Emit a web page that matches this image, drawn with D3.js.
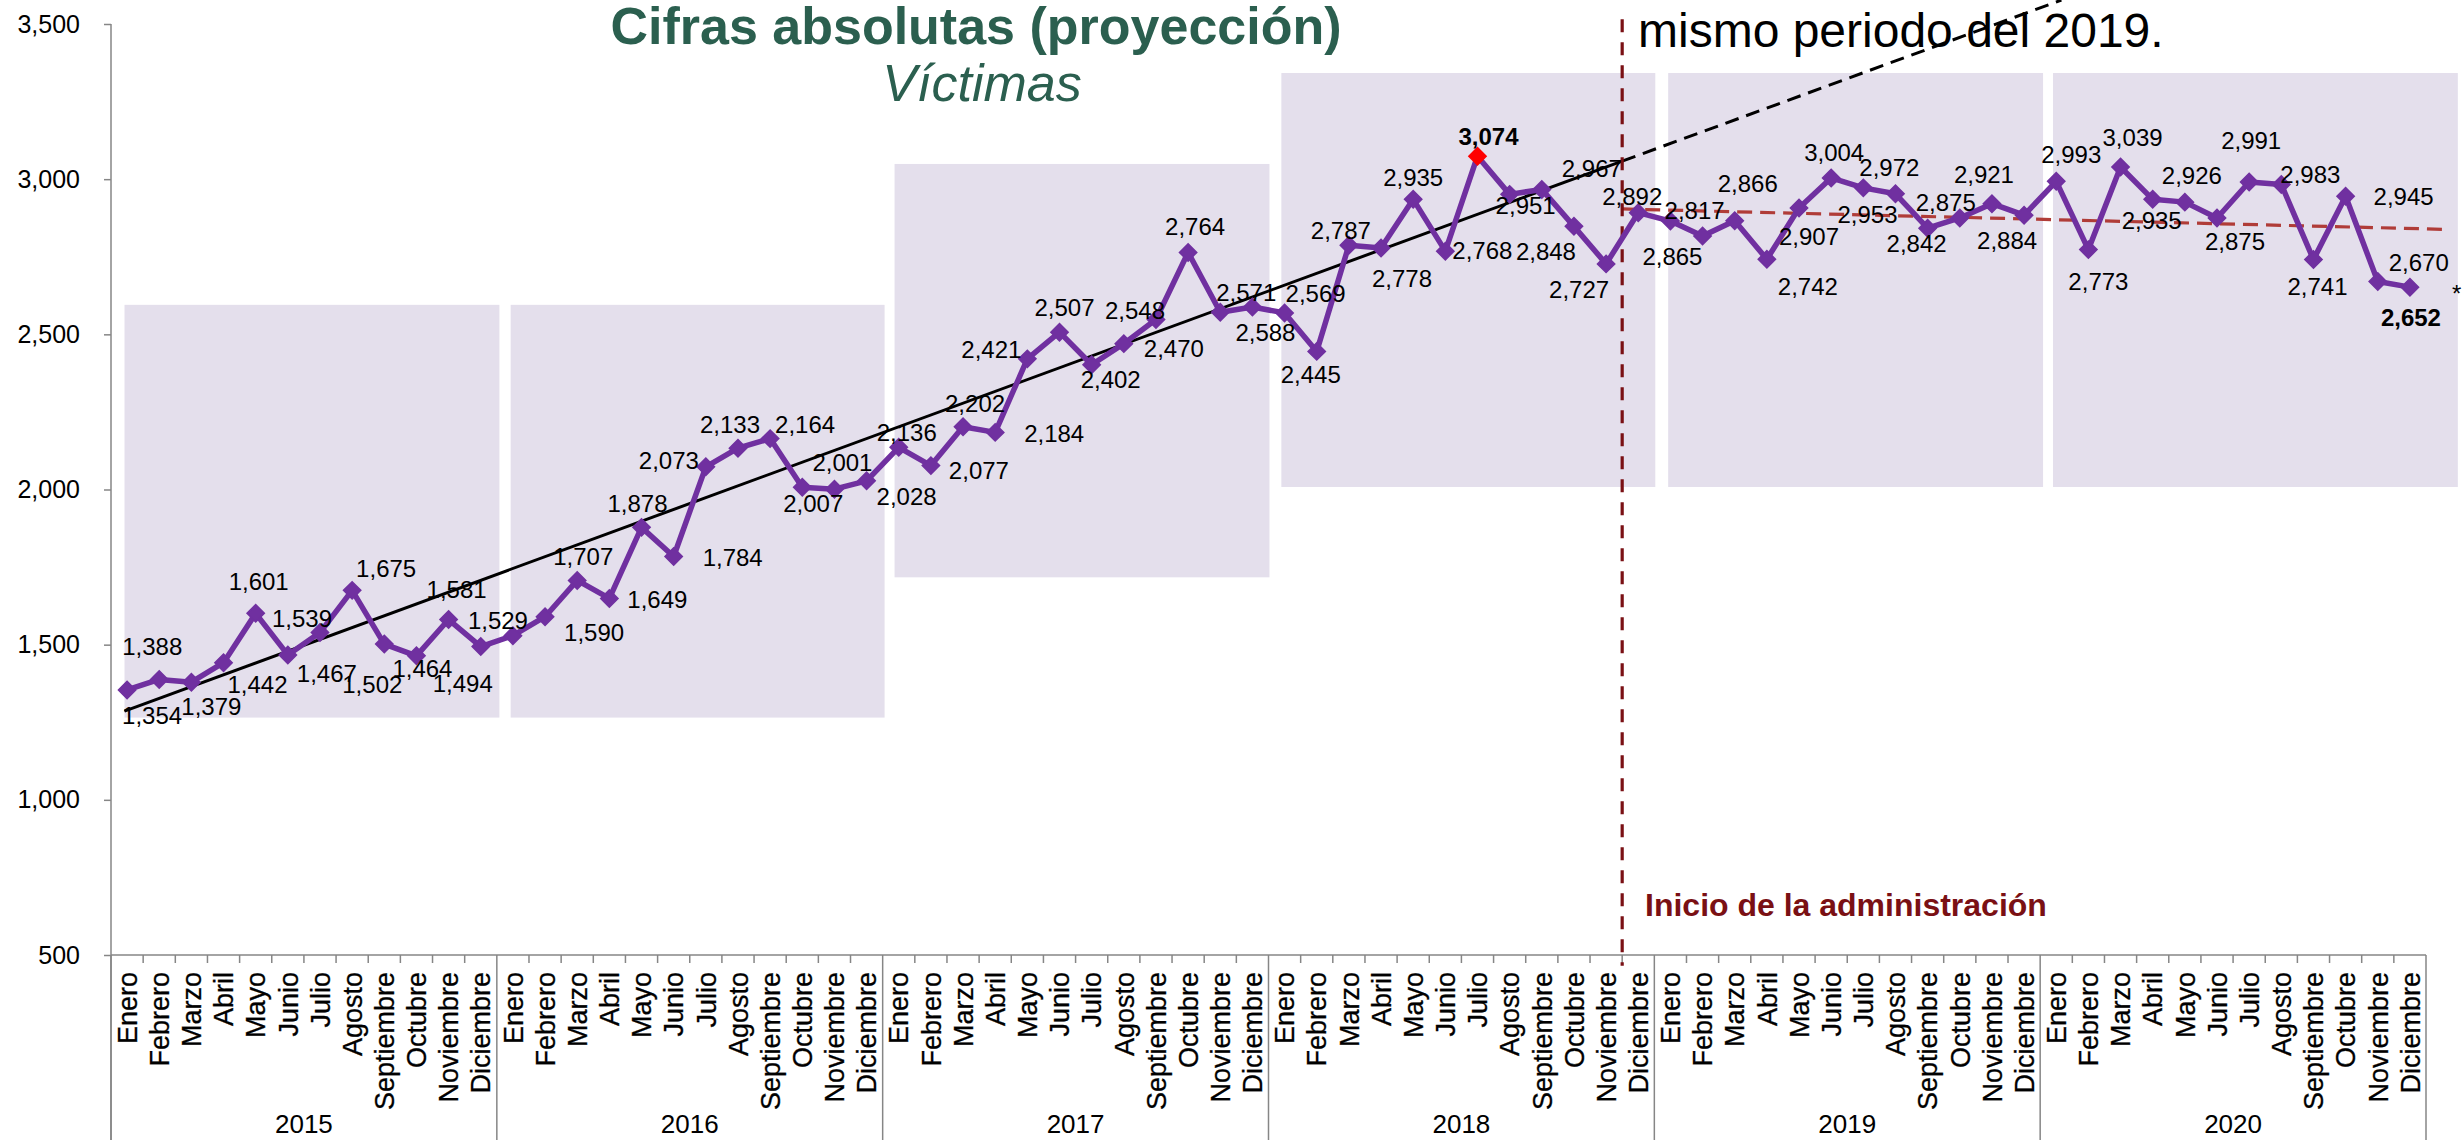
<!DOCTYPE html>
<html><head><meta charset="utf-8">
<script src="https://cdn.jsdelivr.net/npm/d3@7"></script>
<style>
html,body{margin:0;padding:0;background:#fff;}
svg{display:block;font-family:"Liberation Sans",Arial,sans-serif;}
</style></head>
<body>
<script>
// ---------- DATA ----------
const months = ["Enero","Febrero","Marzo","Abril","Mayo","Junio","Julio","Agosto","Septiembre","Octubre","Noviembre","Diciembre"];
const years = ["2015","2016","2017","2018","2019","2020"];
const v2015 = [1354,1388,1379,1442,1601,1467,1539,1675,1502,1464,1581,1494];
const v2016 = [1529,1590,1707,1649,1878,1784,2073,2133,2164,2007,2001,2028];
const v2017 = [2136,2077,2202,2184,2421,2507,2402,2470,2548,2764,2571,2588];
const v2018 = [2569,2445,2787,2778,2935,2768,3074,2951,2967,2848,2727,2892];
const v2019 = [2865,2817,2866,2742,2907,3004,2972,2953,2842,2875,2921,2884];
const v2020 = [2993,2773,3039,2935,2926,2875,2991,2983,2741,2945,2670,2652];
const yTicks = [500,1000,1500,2000,2500,3000,3500];
// shaded year bands: [from month index, to month index, low value, high value]
const bandFrom = [-0.08, 11.93, 23.87, 35.9, 47.93, 59.9];
const bandTo   = [11.58, 23.56, 35.53, 47.53, 59.59, 72.49];
const bandLow  = [1265, 1265, 1717, 2008, 2008, 2008];
const bandHigh = [2595, 2595, 3049, 3342, 3342, 3342];
// trend lines (month index, value)
const trendPre = [[-0.08,1286],[46.5,3058]];
const trendPreExt = [[46.5,3058],[60.16,3577]];
const trendPost = [[46.5,2904],[72.2,2838]];
const adminLine = [[46.5,3515],[46.5,465]];
const highlightIdx = [42, 71];   // bold labels
const redIdx = 42;               // red marker

// label placement offsets (px) relative to each point
const labelOffsets = [
 [25,25],[-7,-33],[20,24],[34,22],[3,-32],[39,18],[-18,-14],[34,-22],[-12,40],[6,13],[8,-30],[-18,37],
 [-15,-15],[49,16],[6,-24],[48,1],[-4,-24],[59,1],[-37,-6],[-8,-24],[35,-14],[11,16],[8,-27],[40,16],
 [8,-15],[48,5],[12,-23],[59,1],[-36,-9],[5,-25],[19,15],[50,5],[-21,-9],[7,-26],[26,-20],[13,25],
 [31,-20],[-6,23],[-8,-15],[21,30],[0,-22],[37,-1],[11,-20],[16,11],[50,-21],[-28,25],[-27,25],[-6,-16],
 [2,35],[-8,-26],[13,-37],[41,27],[10,28],[3,-26],[26,-20],[-28,21],[-11,15],[-14,-16],[-8,-29],[-17,25],
 [15,-27],[10,32],[12,-30],[-1,21],[7,-27],[18,23],[2,-42],[29,-10],[4,27],[58,0],[41,-19],[1,30]
];

const values = [].concat(v2015,v2016,v2017,v2018,v2019,v2020);
const points = values.map((v,i)=>({k:i, v:v, m:months[i%12]}));

// ---------- CHART ----------
const W = 2463, H = 1140;
const svg = d3.select("body").append("svg").attr("width",W).attr("height",H);
const x = d3.scaleLinear().domain([-0.5,71.5]).range([111,2426]);
const y = d3.scaleLinear().domain([500,3500]).range([955,24]);
const axisColor = "#868686";

// bands
svg.append("g").selectAll("rect").data(years).join("rect")
  .attr("x",(d,i)=>x(bandFrom[i]))
  .attr("width",(d,i)=>x(bandTo[i])-x(bandFrom[i]))
  .attr("y",(d,i)=>y(bandHigh[i]))
  .attr("height",(d,i)=>y(bandLow[i])-y(bandHigh[i]))
  .attr("fill","#e4dfec");

// Y axis
const yAxis = d3.axisLeft(y).tickValues(yTicks).tickFormat(d3.format(","))
  .tickSize(7).tickPadding(24).tickSizeOuter(0);
const gy = svg.append("g").attr("transform","translate(111,0)").call(yAxis);
gy.select(".domain").remove();
gy.selectAll(".tick line").attr("stroke",axisColor).attr("stroke-width",1.5);
gy.selectAll(".tick text").attr("font-size",25).attr("fill","#000")
  .attr("font-family","'Liberation Sans',Arial,sans-serif");
svg.append("line").attr("x1",111).attr("x2",111).attr("y1",y(3500)).attr("y2",H)
  .attr("stroke",axisColor).attr("stroke-width",1.5);

// X axis
const gx = svg.append("g");
gx.append("line").attr("x1",x(-0.5)).attr("x2",x(71.5)).attr("y1",y(500)).attr("y2",y(500))
  .attr("stroke",axisColor).attr("stroke-width",1.5);
const bounds = d3.range(0,73);
gx.selectAll("line.tk").data(bounds).join("line").attr("class","tk")
  .attr("x1",d=>x(d-0.5)).attr("x2",d=>x(d-0.5))
  .attr("y1",y(500)).attr("y2",d=> d%12===0 ? H : y(500)+8)
  .attr("stroke",axisColor).attr("stroke-width",1.5);
gx.selectAll("text.month").data(points).join("text").attr("class","month")
  .attr("transform",d=>`translate(${x(d.k)},972) rotate(-90)`)
  .attr("text-anchor","end").attr("dy","0.36em")
  .attr("font-size",27).attr("fill","#000")
  .attr("stroke","#000").attr("stroke-width",0.3).text(d=>d.m);
gx.selectAll("text.year").data(years).join("text").attr("class","year")
  .attr("x",(d,i)=>x(12*i+5.5)).attr("y",1133).attr("text-anchor","middle")
  .attr("font-size",26).attr("fill","#000").text(d=>d);

// trend lines
const lineXY = d3.line().x(d=>x(d[0])).y(d=>y(d[1]));
svg.append("path").attr("d",lineXY(trendPre)).attr("fill","none")
  .attr("stroke","#000").attr("stroke-width",3);
svg.append("path").attr("d",lineXY(trendPreExt)).attr("fill","none")
  .attr("stroke","#000").attr("stroke-width",3).attr("stroke-dasharray","14 8");
svg.append("path").attr("d",lineXY(trendPost)).attr("fill","none")
  .attr("stroke","#b03c38").attr("stroke-width",3.2).attr("stroke-dasharray","15 8");

// administration line
svg.append("path").attr("d",lineXY(adminLine)).attr("fill","none")
  .attr("stroke","#7a1014").attr("stroke-width",3.2).attr("stroke-dasharray","13 10");

// data line
const line = d3.line().x(d=>x(d.k)).y(d=>y(d.v));
svg.append("path").datum(points).attr("d",line).attr("fill","none")
  .attr("stroke","#7030a0").attr("stroke-width",5.5).attr("stroke-linejoin","round");
const sym = d3.symbol().type(d3.symbolSquare).size(150);
svg.append("g").selectAll("path").data(points).join("path")
  .attr("d",sym)
  .attr("transform",d=>`translate(${x(d.k)},${y(d.v)}) rotate(45)`)
  .attr("fill",d=> d.k===redIdx ? "#ff0000" : "#7030a0")
  .attr("stroke",d=> d.k===redIdx ? "#ff0000" : "#7030a0").attr("stroke-width",1.5);

// data labels
const fmt = d3.format(",");
svg.append("g").selectAll("text").data(points).join("text")
  .attr("x",d=>x(d.k)+labelOffsets[d.k][0])
  .attr("y",d=>y(d.v)+labelOffsets[d.k][1])
  .attr("text-anchor","middle").attr("dy","0.36em")
  .attr("font-size",24).attr("fill","#000")
  .attr("font-weight",d=> highlightIdx.includes(d.k) ? "bold" : "normal")
  .text(d=>fmt(d.v));

// titles and annotations
svg.append("text").attr("x",976).attr("y",44).attr("text-anchor","middle")
  .attr("font-size",52).attr("font-weight","bold").attr("fill","#2b5f4f")
  .text("Cifras absolutas (proyección)");
svg.append("text").attr("x",982).attr("y",101).attr("text-anchor","middle")
  .attr("font-size",52).attr("font-style","italic").attr("fill","#2b5f4f")
  .text("Víctimas");
svg.append("text").attr("x",1638).attr("y",47)
  .attr("font-size",48).attr("fill","#000").text("mismo periodo del 2019.");
svg.append("text").attr("x",1645).attr("y",916)
  .attr("font-size",32).attr("font-weight","bold").attr("fill","#7a1014")
  .text("Inicio de la administración");
svg.append("text").attr("x",2452).attr("y",302)
  .attr("font-size",24).attr("fill","#000").text("*");
</script>
</body></html>
